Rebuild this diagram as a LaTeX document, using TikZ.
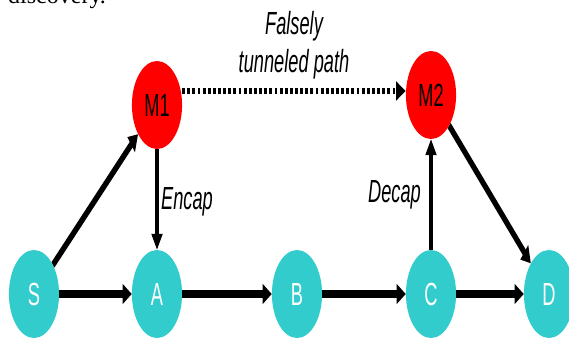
\documentclass[tikz,border=0pt]{standalone}
\usepackage{fontspec}
\setmainfont{Liberation Sans}
\newfontfamily\pagefont{Liberation Serif}
\usetikzlibrary{arrows.meta}
\definecolor{hostcyan}{RGB}{51,204,204}
\definecolor{malred}{RGB}{255,0,0}

\begin{document}
\begin{tikzpicture}[x=1pt,y=1pt,
  host/.style={circle,fill=hostcyan,text=white,minimum size=88pt,inner sep=0pt,font=\fontsize{32}{34}\selectfont},
  rogue/.style={host,fill=malred,text=black},
  link/.style={line width=7.5pt,-{Triangle[length=16pt,width=19pt]}},
  tunnel/.style={line width=6pt,dash pattern=on 5pt off 4pt,-{Triangle[length=17pt,width=18pt]}},
  tag/.style={inner sep=0pt,font=\fontsize{32}{38.5}\selectfont\itshape}]
\useasboundingbox (0,0) rectangle (569,338);

% cut-off line of the page text above
\node[anchor=base west,inner sep=0pt,font=\pagefont\fontsize{24}{24}\selectfont] (txt) at (8,334) {discovery.};

\begin{scope}[transform canvas={xscale=0.57},x=1.7544pt]
\node[host] (S) at (34,44) {S};
\node[host] (A) at (157,44) {A};
\node[host] (B) at (297,44) {B};
\node[host] (C) at (431,44) {C};
\node[host] (D) at (549,44) {D};
\node[rogue] (M1) at (157,233) {M1};
\node[rogue] (M2) at (431,243) {M2};

\draw[link] (S) -- (A);
\draw[link] (A) -- (B);
\draw[link] (B) -- (C);
\draw[link] (C) -- (D);
\draw[link] (S) -- (M1);
\draw[link] (M1) -- (A);
\draw[link] (C) -- (M2);
\draw[link] (M2) -- (D);

\coordinate (tn) at ([yshift=4pt]M2.west);
\draw[tunnel] (M1.east |- tn) -- (tn);

\node[tag,align=center,anchor=north] (fake) at (294,327) {Falsely\\tunneled path};
\node[tag,anchor=west] (enc) at (161,136) {Encap};
\node[tag,anchor=east] (dec) at (421,143) {Decap};
\end{scope}
\end{tikzpicture}
\end{document}
